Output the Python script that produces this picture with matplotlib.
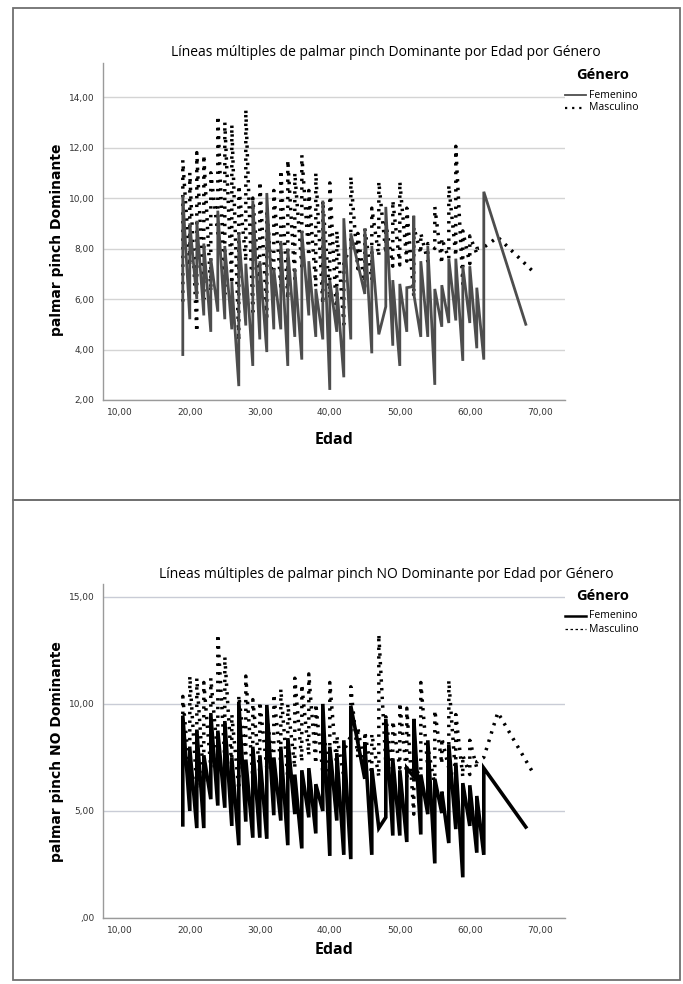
import matplotlib
matplotlib.use("Agg")
import matplotlib.pyplot as plt
from matplotlib.lines import Line2D
from matplotlib.patches import Rectangle
from matplotlib.ticker import FuncFormatter, MultipleLocator

# edades y valores por edad (varias observaciones por edad)
edad_fem = [19, 20, 21, 22, 23, 24, 25, 26, 27, 28, 29, 30, 31, 32, 33, 34, 35,
            36, 37, 38, 39, 40, 41, 42, 43, 45, 46, 47, 48, 49, 50, 51, 52, 53,
            54, 55, 56, 57, 58, 59, 60, 61, 62, 68]
edad_mas = [19, 20, 21, 22, 23, 24, 25, 26, 27, 28, 29, 30, 31, 32, 33, 34, 35,
            36, 37, 38, 39, 40, 41, 42, 43, 44, 45, 46, 47, 48, 49, 50, 51, 52,
            53, 54, 55, 56, 57, 58, 59, 60, 61, 62, 64, 69]

fem_dom = [[3.8, 10.1], [5.2, 9.0], [6.0, 9.1], [5.35, 8.2], [4.7, 7.6],
           [5.5, 9.5], [5.2, 8.1], [4.8, 6.7], [2.55, 8.6], [4.95, 7.4],
           [3.35, 9.9], [4.4, 7.5], [3.9, 10.2], [4.8, 7.2], [4.8, 8.3],
           [3.35, 8.0], [4.5, 7.2], [3.6, 8.7], [5.35, 7.5], [4.5, 6.4],
           [4.4, 9.9], [2.4, 6.75], [4.7, 6.5], [2.9, 9.2], [4.4, 8.6],
           [6.2, 8.8], [3.85, 8.1], [4.6], [5.7, 9.65], [4.15, 6.75],
           [3.35, 6.6], [4.7, 6.45], [6.5, 9.3, 6.2], [4.5, 7.5], [4.5, 8.1],
           [2.6, 6.4], [4.9, 6.55], [5.05, 7.6], [5.15, 7.6], [3.55, 7.3],
           [5.05, 7.3], [4.05, 6.45], [3.6, 10.25], [5.0]]
mas_dom = [[5.9, 11.5], [7.3, 11.0], [4.7, 11.8], [6.0, 11.7], [6.3, 11.0],
           [8.6, 13.25], [6.2, 13.0], [6.6, 12.9], [4.35, 10.5], [7.5, 13.5],
           [5.5, 10.0], [6.3, 10.65], [5.3, 9.5], [6.0, 10.3], [6.5, 11.1],
           [6.0, 11.5], [6.8, 11.0], [7.3, 11.7], [7.7, 10.3], [6.5, 11.0],
           [5.8, 9.9], [6.0, 10.6], [5.15, 8.7], [5.0, 7.5], [8.0, 10.85],
           [7.2, 8.6], [6.5, 8.8], [6.75, 9.6], [7.7, 10.65], [7.8, 9.0],
           [7.3, 9.9], [7.35, 10.65], [7.5, 9.6], [6.1, 8.85], [7.8, 8.6],
           [7.5, 8.2], [8.0, 9.65], [7.4, 8.4], [7.6, 10.5], [7.7, 12.05],
           [6.6, 8.7], [7.4, 8.5], [7.8, 8.0], [8.05], [8.45], [7.1]]

fem_nodom = [[4.35, 9.45], [5.0, 7.9], [4.2, 8.8], [4.2, 7.6], [5.55, 9.5],
             [5.25, 8.75], [5.15, 9.2], [4.3, 7.5], [3.4, 10.1], [4.5, 7.4],
             [3.75, 8.0], [3.75, 7.6], [3.7, 9.95], [4.8, 7.5], [4.55, 8.0],
             [3.4, 8.4], [4.85, 6.7], [3.25, 6.9], [4.7, 7.0], [3.95, 6.25],
             [5.0, 10.0], [2.9, 8.0], [4.55, 7.7], [2.95, 8.3], [2.75, 9.9],
             [6.5, 8.2], [2.95, 7.0], [4.2], [4.7, 9.3], [3.85, 7.4],
             [3.85, 6.9], [3.55, 7.0], [6.6, 9.3], [3.9, 6.7], [4.85, 8.3],
             [2.55, 6.5], [4.9, 5.9], [3.5, 8.1], [4.15, 7.25], [1.9, 6.3],
             [4.3, 6.2], [3.05, 5.7], [2.95, 7.0], [4.25]]
mas_nodom = [[7.5, 10.35], [6.5, 11.3], [6.0, 11.2], [6.3, 11.0], [7.0, 11.2],
             [7.5, 13.25], [7.4, 12.2], [7.0, 9.5], [6.0, 10.4], [7.5, 11.3],
             [6.5, 10.2], [6.8, 10.1], [7.0, 9.4], [7.0, 10.45], [7.2, 10.7],
             [6.5, 10.0], [7.0, 11.2], [7.3, 10.9], [7.6, 11.4], [7.2, 10.0],
             [6.8, 9.0], [6.5, 11.0], [7.0, 8.5], [6.6, 7.8], [8.5, 10.8],
             [7.5, 8.9], [7.0, 8.7], [6.7, 8.6], [6.6, 13.25], [7.2, 9.4],
             [6.8, 9.2], [7.0, 10.05], [6.6, 9.8], [4.85, 7.2], [6.5, 11.0],
             [7.0, 8.0], [6.2, 9.7], [7.2, 8.4], [7.0, 11.1], [6.5, 9.5],
             [6.6, 7.6], [6.7, 8.3], [7.0, 7.3], [7.5], [9.6], [6.8]]

xticks = [10, 20, 30, 40, 50, 60, 70]
narrow = ["Liberation Sans Narrow", "Open Sans", "DejaVu Sans"]

W, H = 683, 984


def flat(edades, grupos):
    xs, ys = [], []
    for e, vals in zip(edades, grupos):
        for v in vals:
            xs.append(e)
            ys.append(v)
    return xs, ys


def fmt(v, pos):
    s = f"{v:.2f}".replace(".", ",")
    if s.startswith("0,"):
        s = s[1:]
    return s


def fx(px):
    return px / W


def fy(py):
    return 1 - py / H


fig = plt.figure(figsize=(W / 100, H / 100), dpi=100)

paneles = [
    dict(top=63, bottom=400, ylim=(2, 15.35), step=2, fem=fem_dom, mas=mas_dom,
         fem_color="#4d4d4d", fem_lw=2.0, grid="#d4d4d4",
         title="Líneas múltiples de palmar pinch Dominante por Edad por Género",
         ylabel="palmar pinch Dominante", title_y=52, ylab_y=240,
         xlab_y=440, leg_y=75, mas_leg=(0, (1, 2.2)), mas_leg_lw=1.6),
    dict(top=584, bottom=918, ylim=(0, 15.6), step=5, fem=fem_nodom, mas=mas_nodom,
         fem_color="black", fem_lw=2.6, grid="#c9ccd6",
         title="Líneas múltiples de palmar pinch NO Dominante por Edad por Género",
         ylabel="palmar pinch NO Dominante", title_y=575, ylab_y=752,
         xlab_y=950, leg_y=596, mas_leg=(0, (2, 2)), mas_leg_lw=0.9),
]

for p in paneles:
    ax = fig.add_axes([fx(103), fy(p["bottom"]), fx(565 - 103),
                       (p["bottom"] - p["top"]) / H])
    xm, ym = flat(edad_mas, p["mas"])
    xf, yf = flat(edad_fem, p["fem"])
    ax.plot(xm, ym, color="black", lw=2.5, linestyle=(0, (0.7, 1.8)),
            dash_capstyle="butt", solid_joinstyle="miter")
    ax.plot(xf, yf, color=p["fem_color"], lw=p["fem_lw"], solid_joinstyle="miter")

    ax.set_xlim(7.6, 73.6)
    ax.set_ylim(*p["ylim"])
    ax.set_xticks(xticks)
    ax.yaxis.set_major_locator(MultipleLocator(p["step"]))
    ax.xaxis.set_major_formatter(FuncFormatter(fmt))
    ax.yaxis.set_major_formatter(FuncFormatter(fmt))
    ax.tick_params(length=0, labelsize=6.5, labelcolor="#333333", pad=6)
    ax.yaxis.grid(True, color=p["grid"], lw=1.0)
    ax.set_axisbelow(True)
    for s in ["top", "right"]:
        ax.spines[s].set_visible(False)
    for s in ["left", "bottom"]:
        ax.spines[s].set_color("#9a9a9a")
        ax.spines[s].set_linewidth(1.0)

    fig.text(fx(386), fy(p["title_y"]), p["title"], ha="center", va="center",
             fontsize=10, family=narrow)
    fig.text(fx(57), fy(p["ylab_y"]), p["ylabel"], rotation=90, ha="center",
             va="center", fontsize=10, fontweight="bold", family="DejaVu Sans")
    fig.text(fx(334), fy(p["xlab_y"]), "Edad", ha="center", va="center",
             fontsize=11.5, fontweight="bold", family=narrow)

    # leyenda
    ly = p["leg_y"]
    fig.text(fx(603), fy(ly), "Género", ha="center", va="center",
             fontsize=10.5, fontweight="bold", family=narrow)
    fig.add_artist(Line2D([fx(565), fx(586)], [fy(ly + 20)] * 2,
                          color=p["fem_color"], lw=1.3 if p["fem_lw"] < 2.2 else 1.8))
    fig.add_artist(Line2D([fx(565), fx(586)], [fy(ly + 33)] * 2, color="black",
                          lw=p["mas_leg_lw"], linestyle=p["mas_leg"]))
    fig.text(fx(589), fy(ly + 20), "Femenino", ha="left", va="center",
             fontsize=7.5, family=narrow)
    fig.text(fx(589), fy(ly + 33), "Masculino", ha="left", va="center",
             fontsize=7.5, family=narrow)

# marcos de los dos paneles
for y0, y1 in [(8, 500), (500, 980)]:
    fig.add_artist(Rectangle((fx(13), fy(y1)), fx(680 - 13), (y1 - y0) / H,
                             transform=fig.transFigure, fill=False,
                             edgecolor="#707070", lw=1.3))

fig.savefig("out.png", dpi=100)
